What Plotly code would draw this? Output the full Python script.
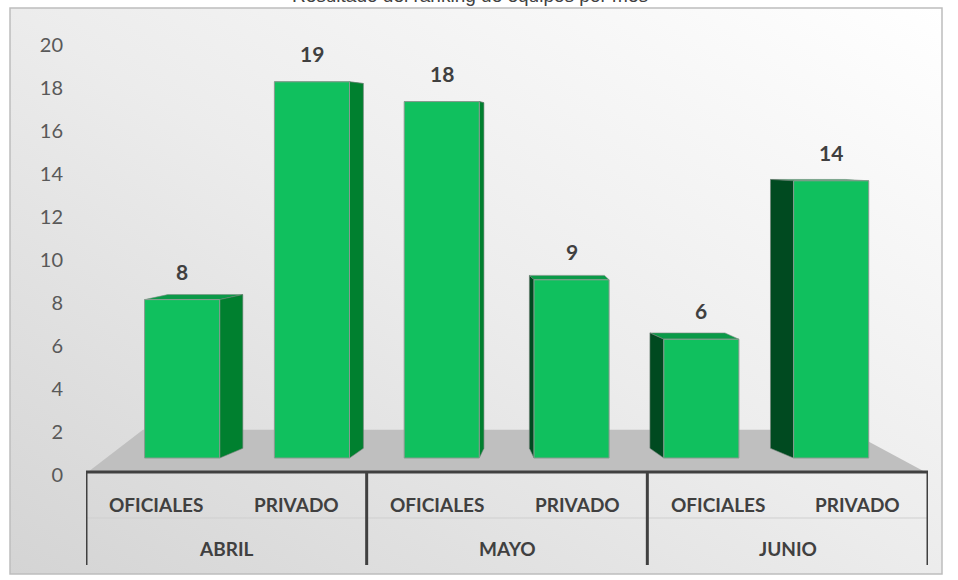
import base64
import plotly.graph_objects as go

# ---------------- data ----------------
months = ["ABRIL", "MAYO", "JUNIO"]
types = ["OFICIALES", "PRIVADO", "OFICIALES", "PRIVADO", "OFICIALES", "PRIVADO"]
values = [8, 19, 18, 9, 6, 14]
y_ticks = [0, 2, 4, 6, 8, 10, 12, 14, 16, 18, 20]
title_text = "Resultado del ranking de equipos por mes"

# ---------------- pseudo-3D projection settings ----------------
BASE = 0.79          # bar foot above the axis (floor depth)
VSCALE = 0.921       # perspective shrink of front faces
BAR_W = 0.535        # front face width (category units)
DYB = 0.45           # back edge lift at the bottom
EYE = 15.7           # eye level (data units) for back-edge perspective
SHRINK = 0.969

FONT = "Lato, 'Open Sans', sans-serif"
TXT = "#404040"

W, H = 958, 580
L, T, PW, PH = 86, 45, 842, 430
px = lambda X: (X - L) / PW          # page pixel -> paper x
py = lambda Y: (T + PH - Y) / PH     # page pixel -> paper y

fig = go.Figure()

# floor (grey parallelogram)
fig.add_trace(go.Scatter(
    x=[-0.486, 5.48, 4.92, -0.094, -0.486], y=[0.14, 0.14, 2.1, 2.1, 0.14],
    fill="toself", fillcolor="#bfbfbf", mode="lines", line=dict(width=0),
    hoverinfo="skip", showlegend=False))


def back(y):
    return EYE + (y - EYE) * SHRINK


for i, v in enumerate(values):
    xc = i + 0.185 - 0.075 * i
    dx = 0.066 * (2.5 - i)
    top = BASE + v * VSCALE
    xl, xr = xc - BAR_W / 2, xc + BAR_W / 2
    bt, bb = back(top), BASE + DYB
    # top face
    fig.add_trace(go.Scatter(
        x=[xl, xr, xr + dx, xl + dx, xl], y=[top, top, bt, bt, top],
        fill="toself", fillcolor="#0a9a48", mode="lines",
        line=dict(width=0.6, color="#7f8f85"), hoverinfo="skip", showlegend=False))
    # side face
    xe = xr if dx > 0 else xl
    side_col = "#00802f" if dx > 0 else "#004a20"
    fig.add_trace(go.Scatter(
        x=[xe, xe, xe + dx, xe + dx, xe], y=[BASE, top, bt, bb, BASE],
        fill="toself", fillcolor=side_col, mode="lines",
        line=dict(width=0.6, color="#6f7f75"), hoverinfo="skip", showlegend=False))
    # front face
    fig.add_trace(go.Scatter(
        x=[xl, xr, xr, xl, xl], y=[BASE, BASE, top, top, BASE],
        fill="toself", fillcolor="#10c05e", mode="lines",
        line=dict(width=1, color="#8a9a90"), hoverinfo="skip", showlegend=False))
    fig.add_annotation(x=xc, y=top, text=f"<b>{v}</b>", showarrow=False,
                       yanchor="bottom", yshift=14, xref="x", yref="y",
                       font=dict(family=FONT, size=21, color=TXT))

# category labels (inner and outer level)
for i, t in enumerate(types):
    fig.add_annotation(x=i, y=py(505), xref="x", yref="paper", text=f"<b>{t}</b>",
                       showarrow=False, yanchor="middle",
                       font=dict(family=FONT, size=19, color=TXT))
for g, m in enumerate(months):
    fig.add_annotation(x=2 * g + 0.5, y=py(548), xref="x", yref="paper", text=f"<b>{m}</b>",
                       showarrow=False, yanchor="middle",
                       font=dict(family=FONT, size=19, color=TXT))

# axis line, thin row separator and group dividers
fig.add_shape(type="line", xref="x", yref="paper", x0=-0.5, x1=5.5, y0=py(518), y1=py(518),
              line=dict(color="#cfcfcf", width=1))
fig.add_shape(type="line", xref="x", yref="paper", x0=-0.5, x1=5.5, y0=py(472), y1=py(472),
              line=dict(color="#404040", width=3))
for g in range(len(months) + 1):
    fig.add_shape(type="line", xref="x", yref="paper", x0=2 * g - 0.5, x1=2 * g - 0.5,
                  y0=py(472), y1=py(565), line=dict(color="#404040", width=3))

# background gradient + border
svg = ('<svg xmlns="http://www.w3.org/2000/svg" width="100" height="100" preserveAspectRatio="none">'
       '<defs><linearGradient id="g" x1="1" y1="0" x2="0" y2="1">'
       '<stop offset="0" stop-color="#ffffff"/><stop offset="0.5" stop-color="#ececec"/>'
       '<stop offset="1" stop-color="#d4d4d4"/></linearGradient></defs>'
       '<rect width="100" height="100" fill="url(#g)"/></svg>')
src = "data:image/svg+xml;base64," + base64.b64encode(svg.encode()).decode()

bx0, bx1, by0, by1 = 10, 942, 8, 574
fig.add_layout_image(source=src, xref="paper", yref="paper", x=px(bx0), y=py(by0),
                     sizex=(bx1 - bx0) / PW, sizey=(by1 - by0) / PH, sizing="stretch",
                     layer="below", xanchor="left", yanchor="top")
fig.add_shape(type="rect", xref="paper", yref="paper", x0=px(bx0), x1=px(bx1),
              y0=py(by1), y1=py(by0), line=dict(color="#bdbdbd", width=1.5), layer="below")

fig.add_annotation(text=title_text, xref="paper", yref="paper", x=px(470), y=py(-5),
                   showarrow=False, yanchor="middle",
                   font=dict(family="'Liberation Sans', Arial, sans-serif", size=19, color="#404040"))

fig.update_layout(
    width=W, height=H,
    margin=dict(l=L, r=W - L - PW, t=T, b=H - T - PH),
    paper_bgcolor="white", plot_bgcolor="rgba(0,0,0,0)",
    font=dict(family=FONT, color=TXT),
    showlegend=False,
    xaxis=dict(range=[-0.5, 5.5], visible=False, fixedrange=True),
    yaxis=dict(range=[0, 20], tickvals=y_ticks, showgrid=False, zeroline=False,
               showline=False, ticks="", ticklabelstandoff=22,
               tickfont=dict(family=FONT, size=20, color="#595959")),
)

fig.write_html("out.html", config={"displayModeBar": False},
               post_script="document.body.style.margin='0';")
